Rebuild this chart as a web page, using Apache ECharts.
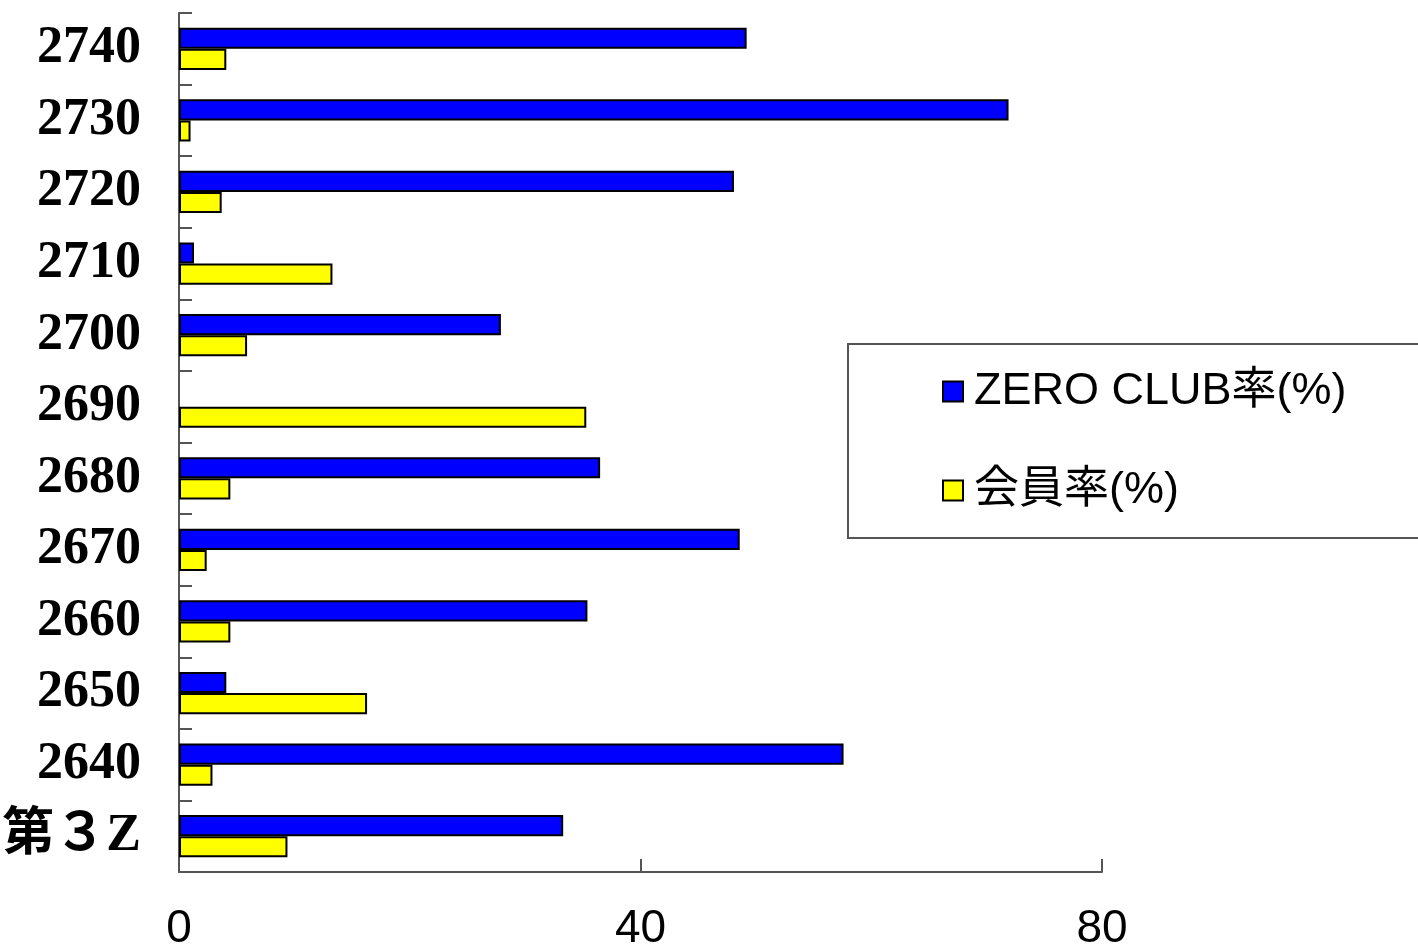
<!DOCTYPE html>
<html>
<head>
<meta charset="utf-8">
<script src="https://cdn.jsdelivr.net/npm/echarts@6/dist/echarts.min.js"></script>
<style>
html,body{margin:0;padding:0;background:#fff;overflow:hidden;}
#chart{width:1418px;height:947px;}
</style>
</head>
<body>
<div id="chart"></div>
<script>
// categories from bottom to top
const categories = ['第３Z','2640','2650','2660','2670','2680','2690','2700','2710','2720','2730','2740'];
const zeroClubRate = [33.3, 57.6, 4.1, 35.4, 48.6, 36.5, null, 27.9, 1.3, 48.1, 71.9, 49.2];
const memberRate   = [9.4, 2.9, 16.3, 4.45, 2.4, 4.45, 35.3, 5.9, 13.3, 3.7, 1.0, 4.1];
const seriesNames = ['ZERO CLUB率(%)', '会員率(%)'];
const xTicks = [0, 40, 80];

const chart = echarts.init(document.getElementById('chart'));
const axisColor = '#555';
chart.setOption({
  animation: false,
  backgroundColor: '#fff',
  grid: { left: 179, top: 13, right: 316, bottom: 75, containLabel: false, outerBoundsMode: 'none' },
  legend: {
    data: seriesNames,
    orient: 'vertical',
    left: 848,
    top: 344,
    padding: [25, 120, 25, 94],
    itemGap: 54,
    itemWidth: 20,
    itemHeight: 20,
    borderColor: '#555',
    borderWidth: 2,
    backgroundColor: '#fff',
    icon: 'rect',
    textStyle: {
      fontFamily: '"Liberation Sans", "Noto Sans CJK JP", sans-serif',
      fontSize: 45,
      lineHeight: 44,
      color: '#000',
      padding: [0, 0, 0, 6]
    }
  },
  xAxis: {
    type: 'value',
    min: xTicks[0],
    max: xTicks[xTicks.length - 1],
    interval: 40,
    axisLine: { show: true, lineStyle: { color: axisColor, width: 2 } },
    axisTick: { show: true, inside: true, length: 13, lineStyle: { color: axisColor, width: 2 } },
    splitLine: { show: false },
    axisLabel: {
      margin: 34,
      fontFamily: '"Liberation Sans", Arial, sans-serif',
      fontSize: 46,
      color: '#000'
    }
  },
  yAxis: {
    type: 'category',
    data: categories,
    axisLine: { show: true, lineStyle: { color: axisColor, width: 2 } },
    axisTick: { show: true, inside: true, length: 13, lineStyle: { color: axisColor, width: 2 } },
    axisLabel: {
      margin: 38,
      fontFamily: '"Liberation Serif", "Noto Sans CJK JP", serif',
      fontWeight: 'bold',
      fontSize: 52,
      color: '#000',
      padding: [12, 0, 0, 0]
    }
  },
  series: [
    {
      name: seriesNames[0],
      type: 'bar',
      data: zeroClubRate,
      barGap: '0%',
      barCategoryGap: '41%',
      itemStyle: { color: '#0000ff', borderColor: '#000', borderWidth: 2 }
    },
    {
      name: seriesNames[1],
      type: 'bar',
      data: memberRate,
      barGap: '0%',
      barCategoryGap: '41%',
      itemStyle: { color: '#ffff00', borderColor: '#000', borderWidth: 2 }
    }
  ]
});
</script>
</body>
</html>
